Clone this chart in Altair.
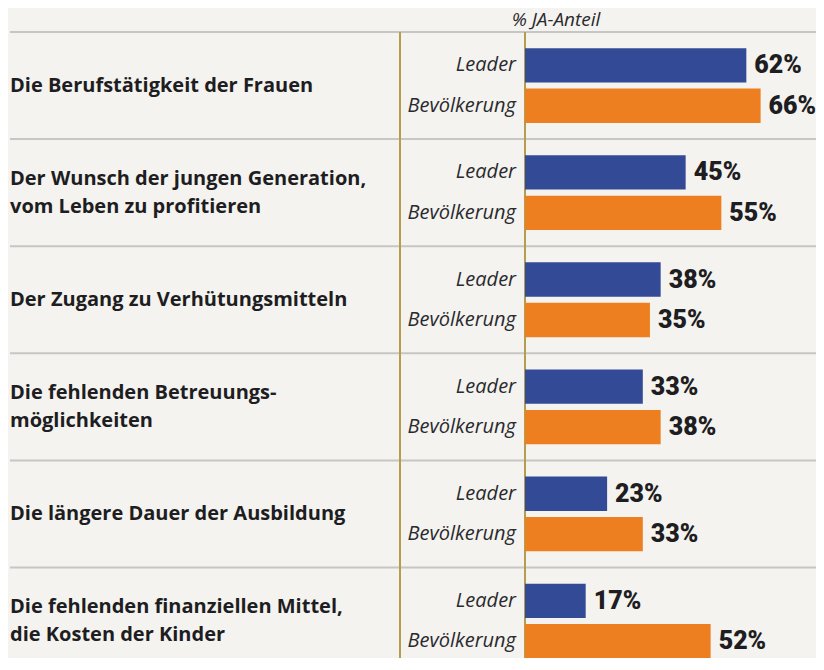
import altair as alt
import pandas as pd

categories = [
    "Die Berufstätigkeit der Frauen",
    "Der Wunsch der jungen Generation,\nvom Leben zu profitieren",
    "Der Zugang zu Verhütungsmitteln",
    "Die fehlenden Betreuungs-\nmöglichkeiten",
    "Die längere Dauer der Ausbildung",
    "Die fehlenden finanziellen Mittel,\ndie Kosten der Kinder",
]
series = ["Leader", "Bevölkerung"]
leader = [62, 45, 38, 33, 23, 17]
bevoelkerung = [66, 55, 35, 38, 33, 52]
axis_title = "% JA-Anteil"

rows = []
for c, a, b in zip(categories, leader, bevoelkerung):
    rows.append({"category": c, "series": "Leader", "value": a, "label": f"{a}%"})
    rows.append({"category": c, "series": "Bevölkerung", "value": b, "label": f"{b}%"})
df = pd.DataFrame(rows)
cat_df = pd.DataFrame({"category": categories,
                       "lines": [c.count("\n") + 1 for c in categories]})
one_df = pd.DataFrame({"title": [axis_title]})

BG = "#f4f3ef"
W, H = 808, 650
STEP = 107.1
TOP = 24
X0 = 517
PX = 3.57

yscale = alt.Scale(domain=categories, range=[TOP, TOP + 6 * STEP],
                   paddingInner=0, paddingOuter=0, round=False)
xscale = alt.Scale(domain=[0, 100], range=[X0, X0 + 100 * PX])
yoff = alt.YOffset("series:N", sort=series,
                   scale=alt.Scale(paddingInner=0.15, paddingOuter=0.4, round=False))
Y = alt.Y("category:N", sort=categories, scale=yscale, axis=None)

seps = alt.Chart(cat_df).mark_rule(color="#c6c6c6", strokeWidth=2).encode(
    y=alt.Y("category:N", sort=categories, scale=yscale, axis=None, bandPosition=0),
    x=alt.value(2), x2=alt.value(W),
)

vline1 = alt.Chart(one_df).mark_rule(color="#b59d4f", strokeWidth=2).encode(
    x=alt.value(392), y=alt.value(TOP), y2=alt.value(H),
)
vline2 = alt.Chart(one_df).mark_rule(color="#b59d4f", strokeWidth=2).encode(
    x=alt.value(X0), y=alt.value(TOP), y2=alt.value(H),
)

bars = alt.Chart(df).mark_bar().encode(
    x=alt.X("value:Q", scale=xscale, axis=None),
    y=Y,
    yOffset=yoff,
    color=alt.Color("series:N", sort=series,
                    scale=alt.Scale(domain=series, range=["#334b96", "#ee7f20"]),
                    legend=None),
)

vals = alt.Chart(df).mark_text(
    align="left", baseline="middle", dx=8, font="Roboto",
    fontWeight=900, fontSize=25, color="#1d1d22",
).encode(
    x=alt.X("value:Q", scale=xscale, axis=None),
    y=Y, yOffset=yoff, text="label:N",
)

ser_labels = alt.Chart(df).mark_text(
    align="right", baseline="middle", font="Open Sans", fontStyle="italic",
    fontSize=20, color="#2a2a2e",
).encode(
    x=alt.value(508), y=Y, yOffset=yoff, text="series:N",
)

cat_style = dict(align="left", baseline="middle", font="Open Sans", fontWeight="bold",
                 fontSize=20, lineHeight=28, lineBreak="\n", color="#1d1d22")
cat_one = alt.Chart(cat_df).transform_filter("datum.lines == 1").mark_text(**cat_style).encode(
    x=alt.value(2), y=Y, text="category:N",
)
cat_two = alt.Chart(cat_df).transform_filter("datum.lines == 2").mark_text(dy=-14, **cat_style).encode(
    x=alt.value(2), y=Y, text="category:N",
)

title = alt.Chart(one_df).mark_text(
    align="center", baseline="middle", font="Open Sans", fontStyle="italic",
    fontSize=19, color="#2a2a2e",
).encode(
    x=alt.value(548), y=alt.value(12), text="title:N",
)

chart = alt.layer(seps, vline1, vline2, bars, vals, ser_labels, cat_one, cat_two, title).properties(
    width=W, height=H, autosize=alt.AutoSizeParams(type="none"), padding=0,
    background=BG,
).configure_view(stroke=None)

chart.save("out.html", embed_options={"renderer": "svg", "actions": False})
